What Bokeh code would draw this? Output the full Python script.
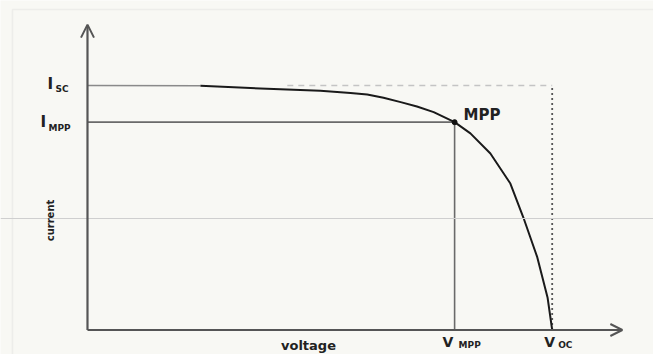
from bokeh.plotting import figure
from bokeh.models import Arrow, OpenHead, Label, Span, Range1d, BoxAnnotation
from bokeh.embed import file_html
from bokeh.resources import INLINE

# ---- data (normalised: Voc = 1, Isc = 1) ----
voltage = [0.0, 0.243, 0.372, 0.501, 0.566, 0.602, 0.637, 0.674, 0.709, 0.745,
           0.790, 0.824, 0.867, 0.910, 0.938, 0.968, 0.990, 1.0]
current = [1.0, 0.999, 0.988, 0.978, 0.969, 0.963, 0.950, 0.932, 0.914, 0.891,
           0.850, 0.804, 0.722, 0.599, 0.460, 0.297, 0.133, 0.0]
V_MPP = 0.790
I_MPP = 0.850
V_OC = 1.0
I_SC = 1.0
x_label = "voltage"
y_label = "current"
mpp_label = "MPP"

FONT = "DejaVu Sans"
BG = "#f8f8f4"

p = figure(width=653, height=354, output_backend="svg", toolbar_location=None,
           x_range=Range1d(-0.1872, 1.2180), y_range=Range1d(-0.1002, 1.3476),
           min_border=0)
p.axis.visible = False
p.grid.visible = False
p.background_fill_color = BG
p.border_fill_color = BG
p.outline_line_color = None

# faint scan frame and line
p.add_layout(BoxAnnotation(left=-0.1614, right=1.30, top=1.3108, bottom=-0.2,
                           fill_color=None, line_color="#d4d4d4", line_width=1.5))
p.add_layout(Span(location=0.456, dimension="width", line_color="#cfcfcf", line_width=1))

# axes as arrows
p.add_layout(Arrow(x_start=0, y_start=0, x_end=1.151, y_end=0, line_color="#555555",
                   line_width=2.2,
                   end=OpenHead(size=12, line_color="#555555", line_width=2)))
p.add_layout(Arrow(x_start=0, y_start=0, x_end=0, y_end=1.249, line_color="#555555",
                   line_width=2.2,
                   end=OpenHead(size=13, line_color="#555555", line_width=2)))

# Isc dashed line and Voc dotted line
p.line([0.43, V_OC], [I_SC, I_SC], line_color="#c4c4c4", line_width=1.5,
       line_dash="6 5")
p.line([V_OC, V_OC], [0, I_SC], line_color="#555555", line_width=1.8, line_dash="2 3")

# MPP guide lines
p.line([0, V_MPP], [I_MPP, I_MPP], line_color="#6a6a6a", line_width=1.6)
p.line([V_MPP, V_MPP], [0, I_MPP], line_color="#6a6a6a", line_width=1.6)

# I-V curve
p.line(voltage[:2], current[:2], line_color="#8a8a8a", line_width=1.5)
p.line(voltage[1:], current[1:], line_color="#1a1a1a", line_width=2,
       line_join="round")

# MPP point
p.scatter([V_MPP], [I_MPP], size=5, color="#111111")


def lab(x, y, text, size, xo=0, yo=0, align="left", base="middle", angle=0,
        color="#222222"):
    p.add_layout(Label(x=x, y=y, text=text, x_offset=xo, y_offset=yo,
                       text_font=FONT, text_font_style="bold",
                       text_font_size=f"{size}px", text_align=align,
                       text_baseline=base, angle=angle, text_color=color))


# y tick-like labels
lab(0, I_SC, "I", 15, xo=-40, yo=1)
lab(0, I_SC, "SC", 9, xo=-32, yo=-4)
lab(0, I_MPP, "I", 15, xo=-47, yo=0)
lab(0, I_MPP, "MPP", 9, xo=-39, yo=-6)

# x tick-like labels
lab(V_MPP, 0, "V", 14, xo=-12, yo=-12)
lab(V_MPP, 0, "MPP", 9, xo=4, yo=-15)
lab(V_OC, 0, "V", 14, xo=-8, yo=-12)
lab(V_OC, 0, "OC", 9, xo=6, yo=-15)

# MPP text
lab(V_MPP, I_MPP, mpp_label, 15, xo=9, yo=7)

# axis titles
lab((308 - 87) / 464.7, 0, x_label, 13, yo=-15, align="center")
lab(0, (329.5 - 220) / 244.5, y_label, 10, xo=-37, align="center", angle=1.5708)

open("out.html", "w").write(file_html(p, INLINE))
